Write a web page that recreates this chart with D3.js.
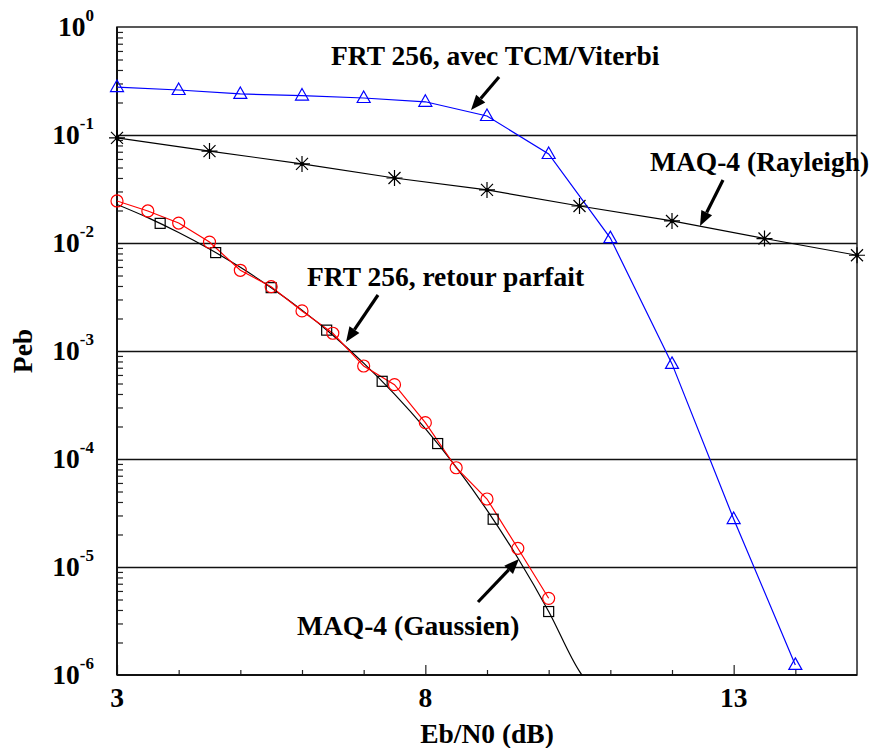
<!DOCTYPE html>
<html>
<head>
<meta charset="utf-8">
<script src="https://cdn.jsdelivr.net/npm/d3@7"></script>
<style>
  html, body { margin: 0; padding: 0; background: #fff; }
  svg { display: block; }
  text { font-family: "Liberation Serif", "Times New Roman", Tinos, serif; font-weight: bold; fill: #000; }
</style>
</head>
<body>
<svg id="chart" width="872" height="748"></svg>
<script>
// Eb/N0 (dB) and bit error probability for each curve
const tcmX = [3, 4, 5, 6, 7, 8, 9, 10, 11, 12, 13, 14];
const tcmY = [0.278, 0.261, 0.240, 0.232, 0.220, 0.203, 0.150, 0.0667, 0.0111, 7.6e-4, 2.78e-5, 1.24e-6];

const parfaitX = [3, 3.5, 4, 4.5, 5, 5.5, 6, 6.5, 7, 7.5, 8, 8.5, 9, 9.5, 10];
const parfaitY = [0.0245, 0.0198, 0.0153, 0.0102, 0.00559, 0.00394, 0.00235, 0.00146,
                  7.26e-4, 4.88e-4, 2.17e-4, 8.3e-5, 4.26e-5, 1.49e-5, 5.13e-6];

const gaussMarkX = [3.7, 4.6, 5.5, 6.4, 7.3, 8.2, 9.1, 10.0];
const gaussMarkY = [0.0152, 0.00815, 0.00386, 0.00156, 5.24e-4, 1.39e-4, 2.77e-5, 3.87e-6];

const gaussCurveX = [3, 3.5, 4, 4.5, 5, 5.5, 6, 6.5, 7, 7.5, 8, 8.5, 9, 9.5, 10, 10.5, 10.54];
const gaussCurveY = [0.02275, 0.01717, 0.0125, 0.00879, 0.00595, 0.00386, 0.00239, 0.00140,
                     7.73e-4, 3.99e-4, 1.91e-4, 8.40e-5, 3.36e-5, 1.21e-5, 3.87e-6, 1.08e-6, 1.0e-6];

const rayX = [3, 4.5, 6, 7.5, 9, 10.5, 12, 13.5, 15];
const rayY = [0.094, 0.071, 0.054, 0.040, 0.031, 0.022, 0.016, 0.011, 0.0077];

const xTickLabels = [3, 8, 13];
const yExponents = [0, -1, -2, -3, -4, -5, -6];

const labelTcm = "FRT 256, avec TCM/Viterbi";
const labelRay = "MAQ-4 (Rayleigh)";
const labelParfait = "FRT 256, retour parfait";
const labelGauss = "MAQ-4 (Gaussien)";
const xTitle = "Eb/N0 (dB)";
const yTitle = "Peb";

// ---- layout ----
const svg = d3.select("#chart");
const pLeft = 117, pRight = 857, pTop = 27, pBottom = 675;
const FONT = 27.5;

const x = d3.scaleLinear().domain([3, 15]).range([pLeft, pRight]);
const y = d3.scaleLog().domain([1, 1e-6]).range([pTop, pBottom]);

const zip = (xs, ys) => xs.map((v, i) => [v, ys[i]]);

svg.append("defs").append("clipPath").attr("id", "plotClip")
  .append("rect").attr("x", pLeft).attr("y", pTop)
  .attr("width", pRight - pLeft).attr("height", pBottom - pTop);

// horizontal grid lines at each decade
const decades = yExponents.map(e => Math.pow(10, e));
svg.append("g").selectAll("line")
  .data(decades.slice(1, -1))
  .join("line")
  .attr("x1", pLeft).attr("x2", pRight)
  .attr("y1", d => y(d) + 0.5).attr("y2", d => y(d) + 0.5)
  .attr("stroke", "#111").attr("stroke-width", 1.3);

// minor ticks on the left axis, pointing inwards
const minor = [];
for (let e = -6; e < 0; e++) for (let m = 2; m <= 9; m++) minor.push(m * Math.pow(10, e));
const yAxis = d3.axisLeft(y).tickValues(minor).tickSizeInner(-6).tickSizeOuter(0).tickFormat("");
const gy = svg.append("g").attr("transform", `translate(${pLeft},0)`).call(yAxis);
gy.select(".domain").remove();
gy.selectAll(".tick line").attr("stroke", "#222").attr("stroke-width", 1.2);

// bottom axis ticks: minor every dB, longer at labelled values
const xMinor = d3.range(4, 15).filter(v => !xTickLabels.includes(v));
const gxMinor = svg.append("g").attr("transform", `translate(0,${pBottom})`)
  .call(d3.axisBottom(x).tickValues(xMinor).tickSizeInner(-5).tickSizeOuter(0).tickFormat(""));
gxMinor.select(".domain").remove();
gxMinor.selectAll(".tick line").attr("stroke", "#222").attr("stroke-width", 1.2);

const gxMajor = svg.append("g").attr("transform", `translate(0,${pBottom})`)
  .call(d3.axisBottom(x).tickValues(xTickLabels).tickSizeInner(-10).tickSizeOuter(0).tickFormat(""));
gxMajor.select(".domain").remove();
gxMajor.selectAll(".tick line").attr("stroke", "#222").attr("stroke-width", 1.2);

// frame
svg.append("rect").attr("x", pLeft).attr("y", pTop)
  .attr("width", pRight - pLeft).attr("height", pBottom - pTop)
  .attr("fill", "none").attr("stroke", "#222").attr("stroke-width", 1.5);
svg.append("line").attr("x1", pLeft).attr("x2", pRight).attr("y1", pBottom).attr("y2", pBottom)
  .attr("stroke", "#111").attr("stroke-width", 2);
svg.append("line").attr("x1", pLeft).attr("x2", pLeft).attr("y1", pTop).attr("y2", pBottom)
  .attr("stroke", "#111").attr("stroke-width", 2);

// y tick labels: 10 with superscript exponent
const yLab = svg.append("g").selectAll("text")
  .data(yExponents)
  .join("text")
  .attr("x", 94)
  .attr("y", e => y(Math.pow(10, e)) + 9)
  .attr("text-anchor", "end");
yLab.append("tspan").attr("font-size", FONT).text("10");
yLab.append("tspan").attr("font-size", 17).attr("dy", -15).text(e => String(e));

// x tick labels
svg.append("g").selectAll("text")
  .data(xTickLabels)
  .join("text")
  .attr("x", d => x(d)).attr("y", 707)
  .attr("text-anchor", "middle").attr("font-size", FONT)
  .text(d => d);

// axis titles
svg.append("text").attr("x", (pLeft + pRight) / 2).attr("y", 743)
  .attr("text-anchor", "middle").attr("font-size", FONT).text(xTitle);
svg.append("text")
  .attr("transform", `translate(32,${(pTop + pBottom) / 2}) rotate(-90)`)
  .attr("text-anchor", "middle").attr("font-size", FONT).text(yTitle);

// ---- curves ----
const plot = svg.append("g").attr("clip-path", "url(#plotClip)");
const lineLin = d3.line().x(d => x(d[0])).y(d => y(d[1]));
const lineSmooth = d3.line().x(d => x(d[0])).y(d => y(d[1])).curve(d3.curveMonotoneX);

plot.append("path").datum(zip(gaussCurveX, gaussCurveY))
  .attr("d", lineSmooth).attr("fill", "none").attr("stroke", "#000").attr("stroke-width", 1.2);
plot.append("path").datum(zip(rayX, rayY))
  .attr("d", lineLin).attr("fill", "none").attr("stroke", "#000").attr("stroke-width", 1.2);
plot.append("path").datum(zip(parfaitX, parfaitY))
  .attr("d", lineLin).attr("fill", "none").attr("stroke", "#ff0000").attr("stroke-width", 1.2);
plot.append("path").datum(zip(tcmX, tcmY))
  .attr("d", lineLin).attr("fill", "none").attr("stroke", "#0000ff").attr("stroke-width", 1.2);

// ---- markers ----
const markers = svg.append("g");

// squares
markers.selectAll("rect.sq").data(zip(gaussMarkX, gaussMarkY)).join("rect")
  .attr("class", "sq")
  .attr("x", d => x(d[0]) - 5).attr("y", d => y(d[1]) - 5)
  .attr("width", 10).attr("height", 10)
  .attr("fill", "none").attr("stroke", "#000").attr("stroke-width", 1.2);

// circles
markers.selectAll("circle").data(zip(parfaitX, parfaitY)).join("circle")
  .attr("cx", d => x(d[0])).attr("cy", d => y(d[1])).attr("r", 6)
  .attr("fill", "none").attr("stroke", "#ff0000").attr("stroke-width", 1.2);

// triangles
const tri = "M0,-7 L6.5,4.5 L-6.5,4.5 Z";
markers.selectAll("path.tri").data(zip(tcmX, tcmY)).join("path")
  .attr("class", "tri")
  .attr("transform", d => `translate(${x(d[0])},${y(d[1])})`)
  .attr("d", tri)
  .attr("fill", "none").attr("stroke", "#0000ff").attr("stroke-width", 1.2);

// asterisks
const sr = 8, sd = 6;
const star = `M${-sr},0L${sr},0M0,${-sr}L0,${sr}M${-sd},${-sd}L${sd},${sd}M${-sd},${sd}L${sd},${-sd}`;
const stars = markers.selectAll("g.star").data(zip(rayX, rayY)).join("g")
  .attr("class", "star")
  .attr("transform", d => `translate(${x(d[0])},${y(d[1])})`);
stars.append("path").attr("d", star).attr("stroke", "#000").attr("stroke-width", 1.2).attr("fill", "none");
stars.append("circle").attr("r", 2).attr("fill", "#000");

// ---- annotations ----
const ann = svg.append("g");
function arrow(x1, y1, x2, y2) {
  const a = Math.atan2(y2 - y1, x2 - x1);
  const len = 15, half = 6;
  const bx = x2 - len * Math.cos(a), by = y2 - len * Math.sin(a);
  ann.append("line").attr("x1", x1).attr("y1", y1).attr("x2", bx).attr("y2", by)
    .attr("stroke", "#000").attr("stroke-width", 3.2);
  const px = -Math.sin(a) * half, py = Math.cos(a) * half;
  ann.append("path")
    .attr("d", `M${x2},${y2}L${bx + px},${by + py}L${bx - px},${by - py}Z`)
    .attr("fill", "#000");
}
function label(txt, lx, ly) {
  ann.append("text").attr("x", lx).attr("y", ly).attr("font-size", FONT).text(txt);
}
label(labelTcm, 331, 65);
arrow(499, 77, 471, 110);
label(labelRay, 650, 171);
arrow(723, 180, 700, 226);
label(labelParfait, 307, 286);
arrow(378, 295, 346, 342);
label(labelGauss, 297, 635);
arrow(478, 602, 519, 559);
</script>
</body>
</html>
